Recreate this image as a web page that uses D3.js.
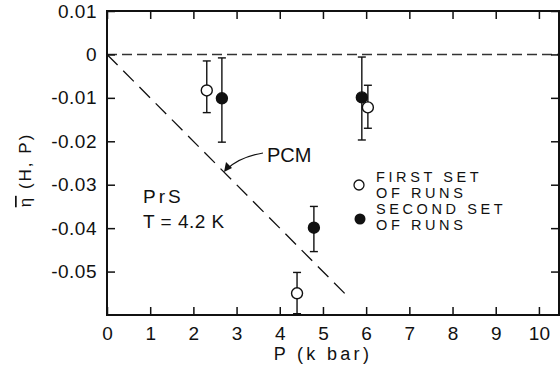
<!DOCTYPE html>
<html><head><meta charset="utf-8">
<script src="https://cdn.jsdelivr.net/npm/d3@7/dist/d3.min.js"></script>
<style>
body{margin:0;background:#fff;}
text{font-family:"Liberation Sans",Arial,sans-serif;fill:#111;}
</style></head>
<body><svg id="c" width="560" height="366"></svg>
<script>
// ---- data ----
const xTicks = [0,1,2,3,4,5,6,7,8,9,10];
const xTickLabels = ["0","1","2","3","4","5","6","7","8","9","10"];
const yTicks = [0.01,0,-0.01,-0.02,-0.03,-0.04,-0.05];
const yTickLabels = ["0.01","0","-0.01","-0.02","-0.03","-0.04","-0.05"];
const firstP = [2.31, 6.04, 4.40];
const firstEta = [-0.0083, -0.0122, -0.0550];
const firstHi = [-0.0015, -0.0071, -0.0502];
const firstLo = [-0.0134, -0.0170, -0.0597];
const secondP = [2.66, 5.90, 4.79];
const secondEta = [-0.0101, -0.0099, -0.0399];
const secondHi = [-0.0008, -0.0006, -0.0350];
const secondLo = [-0.0202, -0.0197, -0.0454];
const pcmP = [0, 5.6];
const pcmEta = [0, -0.056];
const legendLabels = [["FIRST SET","OF RUNS"],["SECOND SET","OF RUNS"]];

const svg = d3.select("#c");
const L=107, R=559, T=11, B=315;
const x = d3.scaleLinear().domain([0,10.465]).range([L,R]);
const y = d3.scaleLinear().domain([-0.06,0.01]).range([B,T]);
const ink="#111";

// zero dashed line
svg.append("line").attr("x1",L).attr("x2",R).attr("y1",y(0)).attr("y2",y(0))
  .attr("stroke","#333").attr("stroke-width",1.4).attr("stroke-dasharray","10,5");

// PCM dashed line
svg.append("line").attr("x1",x(pcmP[0])).attr("y1",y(pcmEta[0])).attr("x2",x(pcmP[1])).attr("y2",y(pcmEta[1]))
  .attr("stroke",ink).attr("stroke-width",1.3).attr("stroke-dasharray","15,8");

// axes (inward ticks)
const tl=8;
svg.append("g").attr("transform",`translate(0,${B})`)
  .call(d3.axisBottom(x).tickValues(xTicks).tickSize(-tl).tickFormat((d,i)=>xTickLabels[i]).tickPadding(12))
  .call(g=>{g.select(".domain").remove();g.selectAll("line").attr("stroke",ink).attr("stroke-width",1.5);
    g.selectAll("text").attr("font-size",19).attr("fill",ink).attr("font-family","Liberation Sans");});
svg.append("g").attr("transform",`translate(0,${T})`)
  .call(d3.axisTop(x).tickValues(xTicks).tickSize(-tl).tickFormat(""))
  .call(g=>{g.select(".domain").remove();g.selectAll("line").attr("stroke",ink).attr("stroke-width",1.5);});
svg.append("g").attr("transform",`translate(${L},0)`)
  .call(d3.axisLeft(y).tickValues(yTicks).tickSize(-tl).tickFormat((d,i)=>yTickLabels[i]).tickPadding(10))
  .call(g=>{g.select(".domain").remove();g.selectAll("line").attr("stroke",ink).attr("stroke-width",1.5);
    g.selectAll("text").attr("font-size",19).attr("fill",ink).attr("font-family","Liberation Sans").attr("letter-spacing",0.5);});
svg.append("g").attr("transform",`translate(${R},0)`)
  .call(d3.axisRight(y).tickValues(yTicks).tickSize(-tl).tickFormat(""))
  .call(g=>{g.select(".domain").remove();g.selectAll("line").attr("stroke",ink).attr("stroke-width",1.5);});

// frame
svg.append("rect").attr("x",L).attr("y",T).attr("width",R-L).attr("height",B-T)
  .attr("fill","none").attr("stroke",ink).attr("stroke-width",2);

// error bars & points
function series(P,E,H,Lo,filled){
  const g=svg.append("g");
  P.forEach((p,i)=>{
    const cx=x(p);
    g.append("line").attr("x1",cx).attr("x2",cx).attr("y1",y(H[i])).attr("y2",y(Lo[i])).attr("stroke",ink).attr("stroke-width",1.4);
    [H[i],Lo[i]].forEach(v=>g.append("line").attr("x1",cx-4).attr("x2",cx+4).attr("y1",y(v)).attr("y2",y(v)).attr("stroke",ink).attr("stroke-width",1.4));
    g.append("circle").attr("cx",cx).attr("cy",y(E[i])).attr("r",5.5)
      .attr("fill",filled?ink:"#fff").attr("stroke",ink).attr("stroke-width",1.4);
  });
}
series(firstP,firstEta,firstHi,firstLo,false);
series(secondP,secondEta,secondHi,secondLo,true);

// PCM label and arrow
svg.append("text").attr("x",267).attr("y",162).attr("font-size",20).text("PCM");
svg.append("path").attr("d","M263,153 Q240,157 227,169").attr("fill","none").attr("stroke",ink).attr("stroke-width",1.2);
svg.append("path").attr("d","M224,172 L226,162 L232,168 Z").attr("fill",ink);

// PrS annotation
svg.append("text").attr("x",143).attr("y",203).attr("font-size",19).attr("letter-spacing",3).text("PrS");
svg.append("text").attr("x",143).attr("y",228).attr("font-size",19).attr("letter-spacing",0.5).text("T = 4.2 K");

// legend
const lg=svg.append("g");
lg.append("circle").attr("cx",359).attr("cy",185).attr("r",5).attr("fill","#fff").attr("stroke",ink).attr("stroke-width",1.3);
lg.append("circle").attr("cx",360).attr("cy",219).attr("r",5.5).attr("fill",ink);
[[182,198],[214,230]].forEach((ys,k)=>{
  ys.forEach((yy,j)=>lg.append("text").attr("x",376).attr("y",yy).attr("font-size",14.5).attr("letter-spacing",3.6).text(legendLabels[k][j]));
});

// axis titles
svg.append("text").attr("x",323).attr("y",360).attr("text-anchor","middle").attr("font-size",18).attr("letter-spacing",3.3).text("P (k bar)");
const yl=svg.append("text").attr("transform","translate(31,170) rotate(-90)").attr("text-anchor","middle").attr("font-size",17).attr("letter-spacing",2);
yl.append("tspan").attr("text-decoration","overline").text("η");
yl.append("tspan").text(" (H, P)");
</script></body></html>
